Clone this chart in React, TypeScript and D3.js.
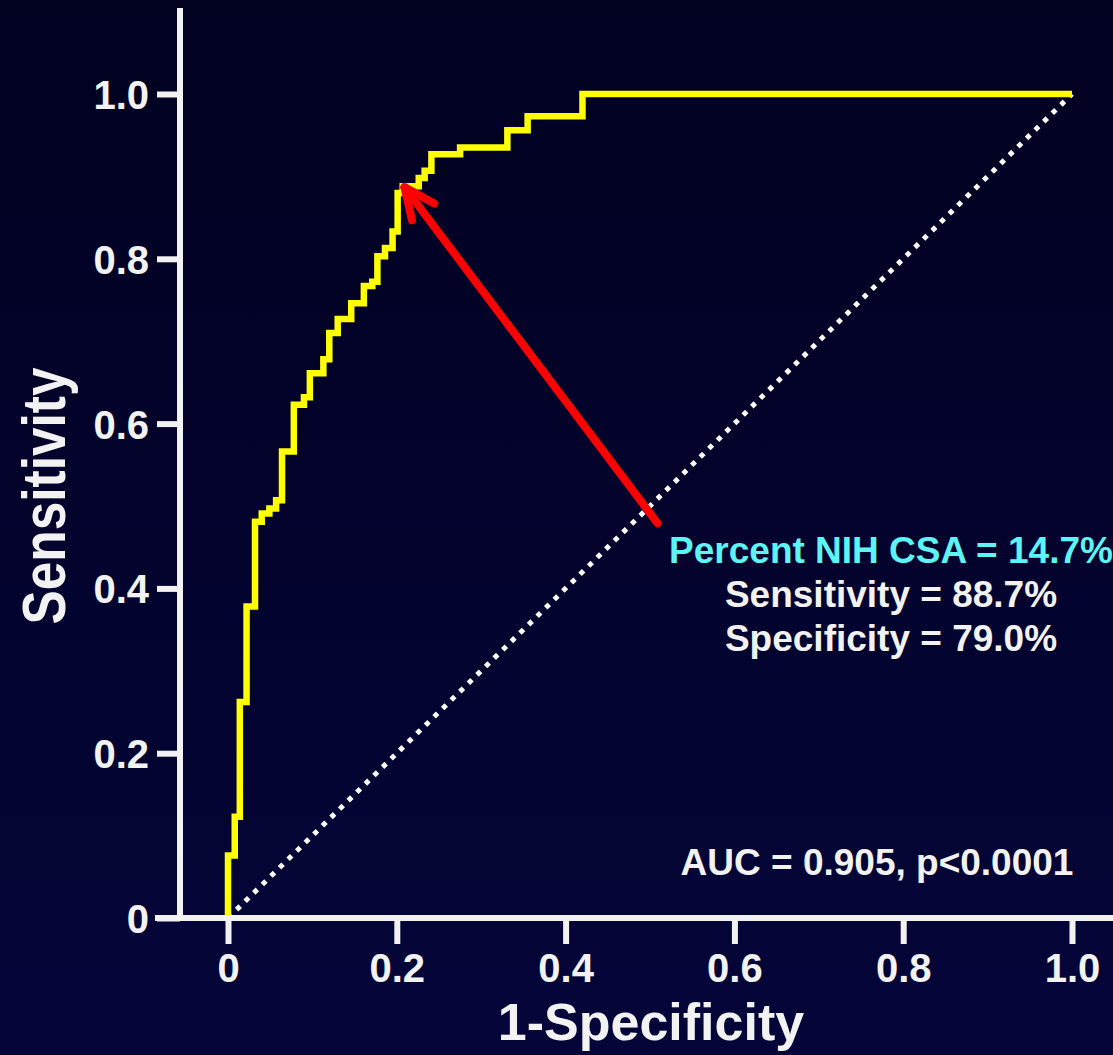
import { useEffect, useRef } from 'react';
import * as d3 from 'd3';

// ROC curve corners (1 - specificity, sensitivity)
const fpr = [0, 0, 0.008, 0.014, 0.022, 0.032, 0.040, 0.049, 0.057, 0.064, 0.078, 0.090, 0.097, 0.113, 0.120, 0.130, 0.146, 0.161, 0.171, 0.177, 0.186, 0.195, 0.201, 0.207, 0.226, 0.233, 0.241, 0.275, 0.331, 0.355, 0.420, 1.0];
const tpr = [0, 0.076, 0.123, 0.262, 0.378, 0.481, 0.491, 0.497, 0.507, 0.566, 0.623, 0.632, 0.661, 0.678, 0.710, 0.727, 0.746, 0.767, 0.772, 0.803, 0.813, 0.833, 0.880, 0.888, 0.898, 0.907, 0.927, 0.935, 0.956, 0.973, 1.0, 1.0];

const tickValues = [0, 0.2, 0.4, 0.6, 0.8, 1.0];
const tickLabels = ['0', '0.2', '0.4', '0.6', '0.8', '1.0'];

// optimal cut-off point and where the arrow starts
const cutPoint = [0.209, 0.887];
const arrowTail = [0.509, 0.479];

const noteLines = ['Percent NIH CSA = 14.7%', 'Sensitivity = 88.7%', 'Specificity = 79.0%'];
const aucText = 'AUC = 0.905, p<0.0001';

const W = 1113;
const H = 1055;
const FONT = '"Liberation Sans", Arial, Helvetica, sans-serif';
const TXT = '#f2f2f2';

export default function App() {
    const xAxisRef = useRef<SVGGElement>(null);
    const yAxisRef = useRef<SVGGElement>(null);

    const x = d3.scaleLinear().domain([0, 1]).range([228, 1072]);
    const y = d3.scaleLinear().domain([0, 1]).range([918, 94]);

    useEffect(() => {
        const fmt = (d: any) => tickLabels[tickValues.indexOf(d)];

        const gx = d3.select(xAxisRef.current);
        gx.call(
            d3.axisBottom(x).tickValues(tickValues).tickFormat(fmt).tickSizeInner(26).tickSizeOuter(0).tickPadding(10) as any
        );
        gx.select('.domain').remove();
        gx.selectAll('line').attr('stroke', TXT).attr('stroke-width', 6);
        gx.selectAll('text').attr('fill', TXT).attr('font-size', 40).attr('font-weight', 'bold').attr('font-family', FONT);

        const gy = d3.select(yAxisRef.current);
        gy.call(
            d3.axisLeft(y).tickValues(tickValues).tickFormat(fmt).tickSizeInner(23).tickSizeOuter(0).tickPadding(8) as any
        );
        gy.select('.domain').remove();
        gy.selectAll('line').attr('stroke', TXT).attr('stroke-width', 6);
        gy.selectAll('text').attr('fill', TXT).attr('font-size', 40).attr('font-weight', 'bold').attr('font-family', FONT).attr('dy', '0.36em');
    });

    const pts: [number, number][] = fpr.map((f, i) => [f, tpr[i]]);
    const rocLine = d3.line<[number, number]>()
        .x(d => x(d[0]))
        .y(d => y(d[1]))
        .curve(d3.curveStepAfter);

    // arrow head: two arms at +-24deg from the shaft
    const tipX = x(cutPoint[0]);
    const tipY = y(cutPoint[1]);
    const tailX = x(arrowTail[0]);
    const tailY = y(arrowTail[1]);
    const ang = Math.atan2(tailY - tipY, tailX - tipX);
    const armLen = 34;
    const arm = (off: number) => [tipX + armLen * Math.cos(ang + off), tipY + armLen * Math.sin(ang + off)];
    const a1 = arm(-0.42);
    const a2 = arm(0.42);

    return (
        <svg width={W} height={H} style={{ position: 'absolute', left: 0, top: 0, display: 'block' }}>
            <defs>
                <linearGradient id="bg" x1="0" y1="0" x2="0" y2="1">
                    <stop offset="0%" stopColor="#010120" />
                    <stop offset="100%" stopColor="#05053a" />
                </linearGradient>
            </defs>
            <rect x={0} y={0} width={W} height={H} fill="url(#bg)" />

            {/* reference diagonal */}
            <line x1={x(0)} y1={y(0)} x2={x(1)} y2={y(1)} stroke="#ffffff" strokeWidth={5} strokeDasharray="5 7" />

            {/* ROC curve */}
            <path d={rocLine(pts) || ''} fill="none" stroke="#ffff00" strokeWidth={6.5} strokeLinejoin="miter" />

            {/* arrow to the cut-off */}
            <g stroke="#ff0000" strokeWidth={8} strokeLinecap="round" fill="none">
                <line x1={tailX} y1={tailY} x2={tipX} y2={tipY} />
                <polyline points={`${a1[0]},${a1[1]} ${tipX},${tipY} ${a2[0]},${a2[1]}`} strokeLinejoin="round" />
            </g>

            {/* axes */}
            <line x1={180} y1={8} x2={180} y2={918} stroke={TXT} strokeWidth={6} />
            <line x1={155} y1={918} x2={W} y2={918} stroke={TXT} strokeWidth={6} />
            <g ref={xAxisRef} transform="translate(0,918)" />
            <g ref={yAxisRef} transform="translate(180,0)" />

            {/* titles */}
            <text x={651} y={1040} textAnchor="middle" fill={TXT} fontFamily={FONT} fontWeight="bold" fontSize={52}>
                1-Specificity
            </text>
            <text
                transform="translate(65,496) rotate(-90)"
                textAnchor="middle"
                fill={TXT}
                fontFamily={FONT}
                fontWeight="bold"
                fontSize={62}
                textLength={257}
                lengthAdjust="spacingAndGlyphs"
            >
                Sensitivity
            </text>

            {/* annotation */}
            <g fontFamily={FONT} fontWeight="bold" fontSize={37} textAnchor="middle">
                <text x={891} y={563} fill="#5cf5f5">{noteLines[0]}</text>
                <text x={891} y={607} fill={TXT}>{noteLines[1]}</text>
                <text x={891} y={651} fill={TXT}>{noteLines[2]}</text>
                <text x={877} y={875} fill={TXT}>{aucText}</text>
            </g>
        </svg>
    );
}
